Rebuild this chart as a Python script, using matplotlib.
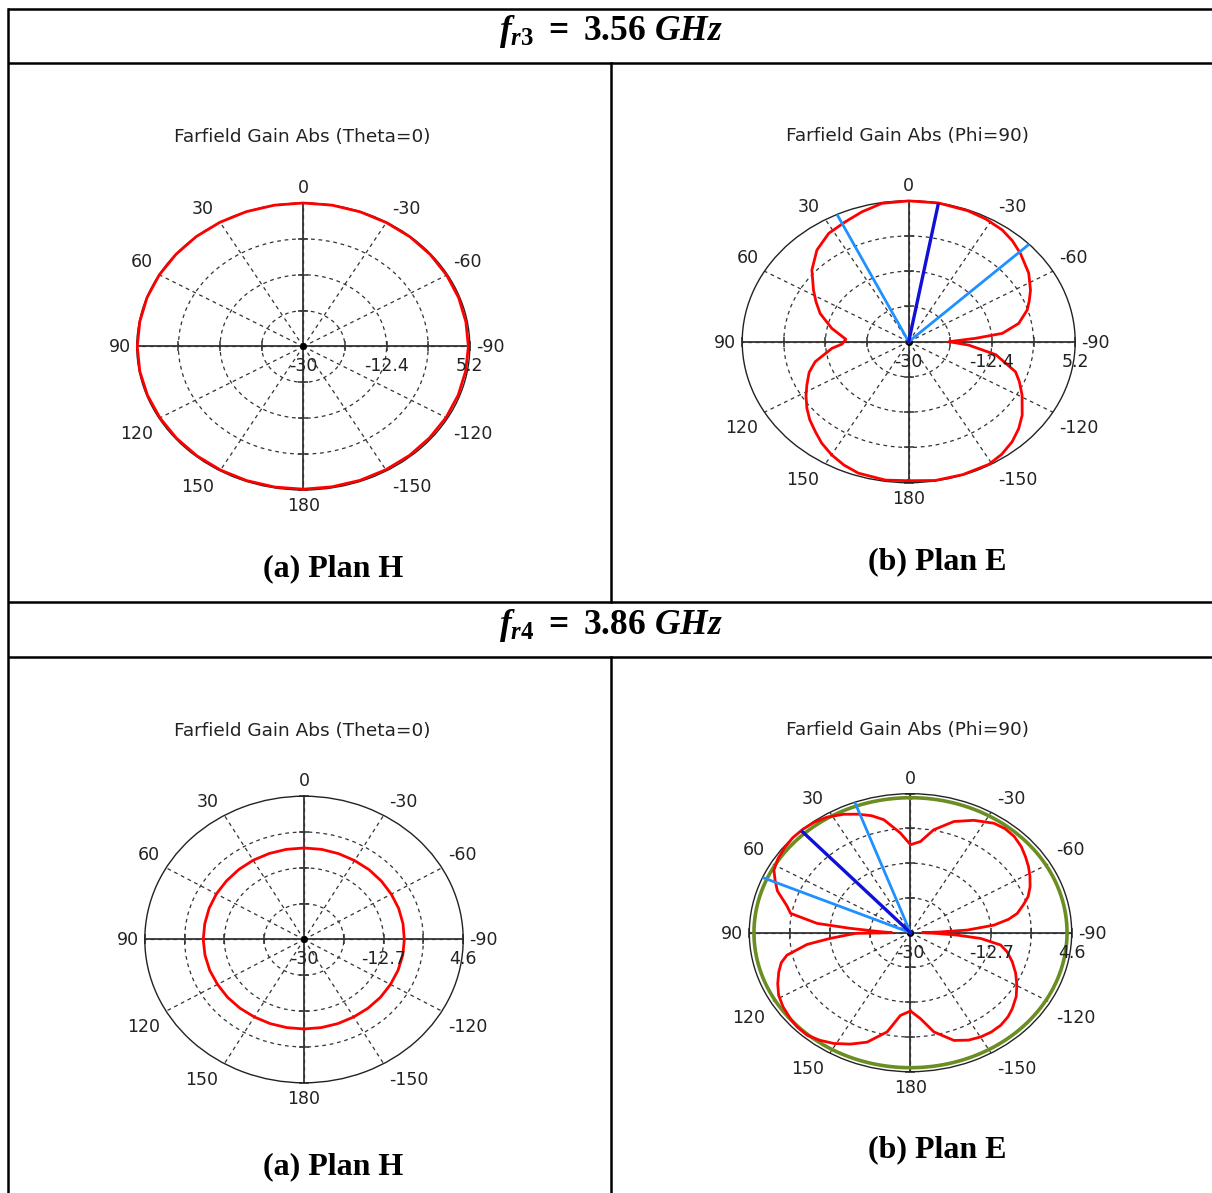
import numpy as np
import matplotlib
matplotlib.use('Agg')
import matplotlib.pyplot as plt
from matplotlib.transforms import offset_copy

# ---------------- data ----------------
angle_ticks = [0, 30, 60, 90, 120, 150, 180, 210, 240, 270, 300, 330]
angle_labels = ['0', '30', '60', '90', '120', '150', '180',
                '-150', '-120', '-90', '-60', '-30']

headers = [r'$f_{r3}\ =\ 3.56\ GHz$', r'$f_{r4}\ =\ 3.86\ GHz$']
titles_h = 'Farfield Gain Abs (Theta=0)'
titles_e = 'Farfield Gain Abs (Phi=90)'
caption_h = '(a) Plan H'
caption_e = '(b) Plan E'

# plot 1 : H plane, 3.56 GHz  (range -30 .. 5.2 dB), every 10 deg from -180
h1_theta = [-180, -170, -160, -150, -140, -130, -120, -110, -100, -90,
            -80, -70, -60, -50, -40, -30, -20, -10, 0, 10,
            20, 30, 40, 50, 60, 70, 80, 90, 100, 110,
            120, 130, 140, 150, 160, 170, 180]
h1_gain = [5.0, 4.95, 4.95, 4.9, 4.9, 4.85, 4.85, 4.85, 4.85, 4.9,
           4.9, 4.95, 5.0, 5.05, 5.1, 5.1, 5.15, 5.2, 5.2, 5.2,
           5.2, 5.2, 5.2, 5.15, 5.15, 5.15, 5.1, 5.1, 5.1, 5.05,
           5.0, 5.0, 5.0, 5.0, 5.0, 5.0, 5.0]
h1_ticks = [-30, -21.2, -12.4, -3.6, 5.2]
h1_rlabels = ['-30', '-12.4', '5.2']

# plot 2 : E plane, 3.56 GHz
e1_theta = [-180, -170.8, -161, -151, -145, -138.8, -133, -127.4, -119, -113,
            -108.4, -100, -93.8, -90, -86.6, -84, -78.9, -72.4, -68, -63.4,
            -56, -47, -41, -35.3, -28, -20.9, -10.3, 0, 9.3, 16.9,
            24.1, 32, 40.3, 48.8, 57.4, 63, 69.4, 78.4, 87.4, 92.4,
            95.8, 104.2, 110, 116.7, 122, 127.7, 133, 138.7, 144, 150,
            156, 162, 171.9, 180]
e1_gain = [4.7, 5.1, 5.1, 5.0, 4.3, 3.2, 1.8, 0.2, -2.6, -4.6,
           -6.2, -11.3, -17.3, -21.5, -15.9, -10.1, -6.3, -3.7, -2.5, -1.2,
           0.6, 2.3, 3.4, 4.2, 4.7, 5.0, 5.2, 5.15, 5.0, 3.9,
           2.8, 1.9, 0.0, -2.8, -6.1, -8.0, -10.0, -13.4, -16.7, -15.9,
           -13.7, -9.6, -7.6, -5.9, -4.4, -2.8, -1.4, -0.1, 1.3, 2.6,
           3.7, 4.5, 4.9, 4.7]
e1_ticks = [-30, -21.2, -12.4, -3.6, 5.2]
e1_rlabels = ['-30', '-12.4', '5.2']
e1_main = [-10.3]
e1_beam = [25.5, -46.3]

# plot 3 : H plane, 3.86 GHz  (range -30 .. 4.6 dB)
h2_theta = [-180, -170, -160, -150, -140, -130, -120, -110, -100, -90,
            -80, -70, -60, -50, -40, -30, -20, -10, 0, 10,
            20, 30, 40, 50, 60, 70, 80, 90, 100, 110,
            120, 130, 140, 150, 160, 170, 180]
h2_gain = [-8.4, -8.4, -8.4, -8.4, -8.35, -8.3, -8.3, -8.25, -8.2, -8.2,
           -8.15, -8.1, -8.1, -8.05, -8.0, -8.0, -7.95, -7.9, -7.9, -7.9,
           -7.9, -7.9, -7.95, -8.0, -8.0, -8.05, -8.1, -8.1, -8.15, -8.2,
           -8.3, -8.3, -8.35, -8.4, -8.4, -8.4, -8.4]
h2_ticks = [-30, -21.35, -12.7, -4.05, 4.6]
h2_rlabels = ['-30', '-12.7', '4.6']

# plot 4 : E plane, 3.86 GHz
e2_theta = [-180, -174.3, -168.5, -160.8, -155, -149.9, -145, -140, -135, -130.9,
            -125, -119.8, -114, -108.3, -103, -99, -95.4, -93.4, -91.5, -90,
            -88.5, -86.9, -84, -81, -78.2, -74, -70.4, -66, -61.4, -57,
            -52.5, -48, -42.9, -38, -33.3, -25.9, -18.6, -11, -5.4, 0,
            5, 11.5, 16, 21, 26, 32, 37, 42, 47, 52,
            57, 62, 66, 70, 76, 79.4, 83.4, 85.2, 87.8, 90,
            90.8, 94.7, 97.5, 101.9, 105, 109, 114, 118.8, 124, 129.7,
            134, 139, 144, 149.2, 155, 161.1, 168.5, 174, 180]
e2_gain = [-10.5, -8.5, -4.8, -1.6, -0.5, 0.0, 0.2, 0.1, -0.4, -1.1,
           -2.3, -3.7, -5.3, -7.0, -8.7, -10.4, -14.9, -20.0, -25.0, -27.5,
           -24.0, -17.8, -12.0, -8.7, -6.6, -4.8, -3.2, -1.9, -0.8, 0.2,
           1.1, 2.0, 2.7, 2.9, 2.6, 1.1, -0.8, -3.9, -7.2, -8.1,
           -5.1, -1.3, 0.3, 1.6, 2.8, 3.9, 4.4, 4.6, 4.6, 4.3,
           3.9, 3.2, 1.8, 0.4, -2.7, -3.8, -9.8, -17.0, -23.6, -26.0,
           -18.2, -12.7, -7.6, -2.9, -1.3, -0.1, 1.2, 2.3, 3.0, 3.5,
           3.8, 3.8, 3.1, 2.1, 0.6, -1.2, -4.8, -9.3, -10.5]
e2_ticks = [-30, -21.35, -12.7, -4.05, 4.6]
e2_rlabels = ['-30', '-12.7', '4.6']
e2_main = [42.7]
e2_beam = [20.2, 66.6]
e2_ref = 3.6   # green circle level

# ---------------- figure ----------------
W, H = 1212, 1193
plt.rcParams['mathtext.fontset'] = 'custom'
plt.rcParams['mathtext.it'] = 'Liberation Serif:bold:italic'
plt.rcParams['mathtext.rm'] = 'Liberation Serif:bold'
plt.rcParams['mathtext.bf'] = 'Liberation Serif:bold'

fig = plt.figure(figsize=(W / 100, H / 100), dpi=100)

# table frame (pixel coordinates)
tab = fig.add_axes([0, 0, 1, 1])
tab.set_xlim(0, W)
tab.set_ylim(H, 0)
tab.axis('off')
lw_tab = 1.8
for y in [9, 63, 602, 657]:
    tab.plot([8, W], [y, y], color='black', lw=lw_tab, solid_capstyle='butt')
tab.plot([8, 8], [9, H], color='black', lw=lw_tab)
tab.plot([611, 611], [63, 602], color='black', lw=lw_tab)
tab.plot([611, 611], [657, H], color='black', lw=lw_tab)

tab.text(611, 32, headers[0], ha='center', va='center', fontsize=25.5)
tab.text(611, 626, headers[1], ha='center', va='center', fontsize=25.5)

cap_font = dict(family='Liberation Serif', weight='bold', fontsize=23,
                ha='center', va='center')
tab.text(333, 569, caption_h, **cap_font)
tab.text(937, 562, caption_e, **cap_font)
tab.text(333, 1167, caption_h, **cap_font)
tab.text(937, 1150, caption_e, **cap_font)

title_font = dict(family='DejaVu Sans', fontsize=13.3, color='#222222',
                  ha='center', va='center')
tab.text(302, 137, titles_h, **title_font)
tab.text(908, 136, titles_e, **title_font)
tab.text(302, 731, titles_h, **title_font)
tab.text(908, 730, titles_e, **title_font)

TXT = '#222222'


def polar_panel(cx, cy, rx, ry, ticks, rlabels, theta, gain,
                main=None, beam=None, ref=None):
    ax = fig.add_axes([(cx - rx) / W, 1 - (cy + ry) / H, 2 * rx / W, 2 * ry / H],
                      projection='polar')
    ax.set_aspect('auto')
    ax.set_theta_zero_location('N')
    ax.set_theta_direction(1)
    rmin, rmax = ticks[0], ticks[-1]
    ax.set_facecolor('none')
    ax.set_thetagrids(angle_ticks, labels=[''] * len(angle_ticks))
    ax.set_rgrids(ticks[1:-1], labels=[''] * (len(ticks) - 2))
    ax.tick_params(axis='x', length=0)
    ax.tick_params(axis='y', length=0)
    ax.xaxis.grid(True, color='#333333', ls=(0, (3, 3)), lw=0.9)
    ax.yaxis.grid(True, color='#333333', ls=(0, (3, 3)), lw=0.9)
    ax.spines['polar'].set_color('#222222')
    ax.spines['polar'].set_linewidth(1.0)
    # angle labels, anchored by their nearest corner just outside the rim
    for a, lab in zip(angle_ticks, angle_labels):
        s, c = -np.sin(np.deg2rad(a)), np.cos(np.deg2rad(a))
        if abs(s) < 1e-6:
            ha, dx = 'center', 0
        elif s > 0:
            ha, dx = 'left', 6
        else:
            ha, dx = 'right', -6
        if abs(c) < 1e-6:
            va, dy = 'center', -1
        elif c > 0:
            va, dy = 'bottom', 4 if abs(s) > 1e-6 else 6
        else:
            va, dy = 'top', -7
        tr = offset_copy(ax.transData, x=dx, y=dy, units='dots')
        ax.text(np.deg2rad(a), rmax, lab, transform=tr, ha=ha, va=va,
                fontsize=12.5, color=TXT, clip_on=False)
    # solid main axes
    ax.vlines(np.deg2rad([0, 90, 180, 270]), rmin, rmax, color='#333333', lw=1.3, zorder=2)
    # small ticks on axes
    ax.plot(np.deg2rad([90] * 4 + [270] * 4), ticks[1:] * 2, ls='none', marker='|',
            ms=7, mew=1.1, color='#333333', clip_on=False, zorder=2)
    ax.plot(np.deg2rad([0] * 4 + [180] * 4), ticks[1:] * 2, ls='none', marker='_',
            ms=7, mew=1.1, color='#333333', clip_on=False, zorder=2)
    if ref is not None:
        ax.plot(np.deg2rad(np.linspace(0, 360, 361)), [ref] * 361, color='#6b8e23',
                lw=2.6, zorder=3)
    ax.plot(np.deg2rad(theta), gain, color='#ff0000', lw=2.0, zorder=4, clip_on=False)
    if beam is not None:
        for b in beam:
            ax.plot(np.deg2rad([b, b]), [rmin, rmax], color='#1e90ff', lw=2.0, zorder=5)
    if main is not None:
        for m in main:
            ax.plot(np.deg2rad([m, m]), [rmin, rmax], color='#1010d8', lw=2.4, zorder=6)
    ax.plot([0], [rmin], 'o', ms=4, color='black', zorder=3)
    off = offset_copy(ax.transData, x=0, y=-20, units='dots')
    for r, lab in zip([ticks[0], ticks[2], ticks[4]], rlabels):
        ax.text(np.deg2rad(270), r, lab, transform=off, ha='center', va='center',
                fontsize=12.5, color=TXT, zorder=7)
    ax.set_xlim(0, 2 * np.pi)
    ax.set_ylim(rmin, rmax)
    return ax


polar_panel(303.3, 346.5, 166.5, 143.5, h1_ticks, h1_rlabels, h1_theta, h1_gain)
polar_panel(908.7, 341.7, 166.5, 141.0, e1_ticks, e1_rlabels, e1_theta, e1_gain,
            main=e1_main, beam=e1_beam)
polar_panel(304.0, 939.5, 159.2, 143.3, h2_ticks, h2_rlabels, h2_theta, h2_gain)
polar_panel(910.5, 932.7, 161.2, 139.0, e2_ticks, e2_rlabels, e2_theta, e2_gain,
            main=e2_main, beam=e2_beam, ref=e2_ref)

fig.savefig('out.png', dpi=100)
